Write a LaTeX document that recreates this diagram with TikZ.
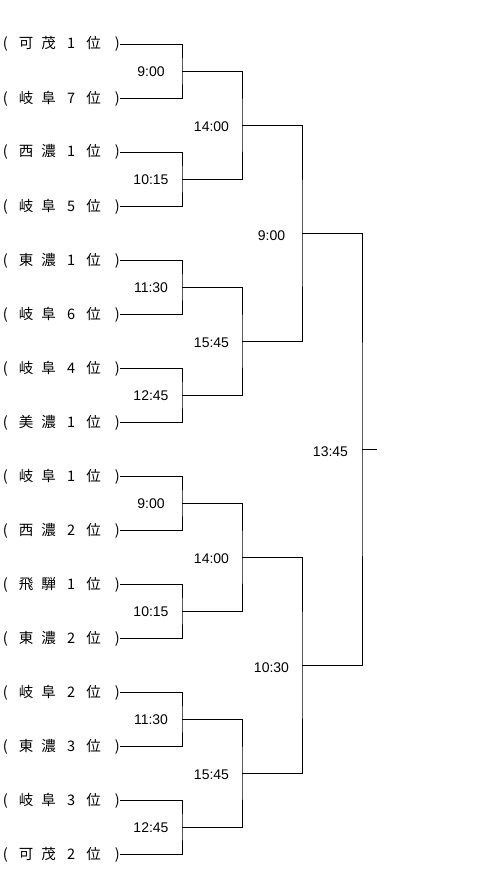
\documentclass[tikz,border=0pt]{standalone}
\usepackage{fontspec}
\setmainfont{Liberation Sans}
\newfontfamily\jp{Noto Sans CJK JP}
\newcommand\teamtxt[3]{\makebox[12pt][l]{(}\makebox[22.5pt]{#1}\makebox[22.5pt]{#2}\makebox[22.5pt]{#3}\makebox[22.5pt]{位}\makebox[15pt][r]{)}}
\begin{document}
\begin{tikzpicture}[x=1pt,y=-1pt,
  team/.style={inner sep=0pt, anchor=east, font=\jp\fontsize{14.5}{14.5}\selectfont, text height=1.0em, text depth=0em},
  timelbl/.style={inner sep=0pt, font=\fontsize{14}{14}\selectfont},
  wire/.style={line width=0.8pt, black}]
\useasboundingbox[fill=white] (0,0) rectangle (497,872);
% teams
\foreach \i/\a/\b/\n in {1/可/茂/1, 2/岐/阜/7, 3/西/濃/1, 4/岐/阜/5, 5/東/濃/1, 6/岐/阜/6, 7/岐/阜/4, 8/美/濃/1, 9/岐/阜/1, 10/西/濃/2, 11/飛/騨/1, 12/東/濃/2, 13/岐/阜/2, 14/東/濃/3, 15/岐/阜/3, 16/可/茂/2}{
  \node[team] (t\i) at (120,{44+54*(\i-1)}) {\teamtxt{\a}{\b}{\n}};
}
% round 1
\foreach \j/\tm in {1/9:00, 2/10:15, 3/11:30, 4/12:45, 5/9:00, 6/10:15, 7/11:30, 8/12:45}{
  \coordinate (a\j) at (182,{71+108*(\j-1)});
  \node[timelbl] (la\j) at (151,{72+108*(\j-1)}) {\tm};
  \pgfmathtruncatemacro\p{2*\j-1}
  \pgfmathtruncatemacro\q{2*\j}
  \draw[wire] (t\p.east) -| (a\j) |- (t\q.east);
}
% round 2
\foreach \k/\tm in {1/14:00, 2/15:45, 3/14:00, 4/15:45}{
  \coordinate (b\k) at (242,{125+216*(\k-1)});
  \node[timelbl] (lb\k) at (211.5,{126.5+216*(\k-1)}) {\tm};
  \pgfmathtruncatemacro\p{2*\k-1}
  \pgfmathtruncatemacro\q{2*\k}
  \draw[wire] (a\p) -| (b\k) |- (a\q);
}
% round 3
\foreach \l/\tm in {1/9:00, 2/10:30}{
  \coordinate (c\l) at (302,{233+432*(\l-1)});
  \node[timelbl] (lc\l) at (271.5,{235.5+432*(\l-1)}) {\tm};
  \pgfmathtruncatemacro\p{2*\l-1}
  \pgfmathtruncatemacro\q{2*\l}
  \draw[wire] (b\p) -| (c\l) |- (b\q);
}
% final
\coordinate (f) at (362,449);
\coordinate (fe) at (377,449);
\node[timelbl] (lf) at (330.5,451.5) {13:45};
\draw[wire] (c1) -| (f) |- (c2);
\draw[wire] (f) -- (fe);
\end{tikzpicture}
\end{document}
